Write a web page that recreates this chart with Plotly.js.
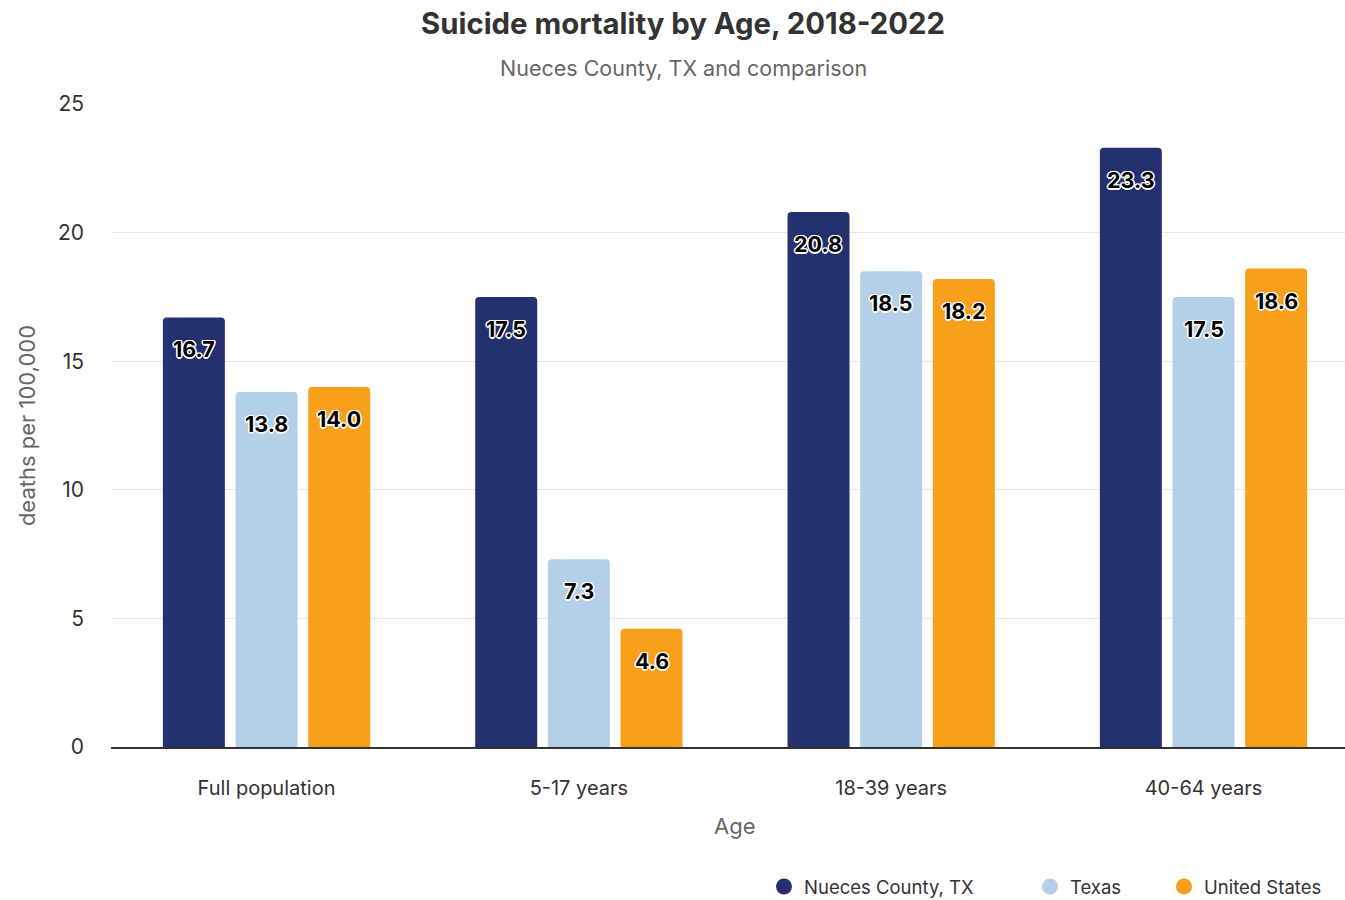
<!DOCTYPE html>
<html><head><meta charset="utf-8">
<script src="https://cdn.plot.ly/plotly-3.0.1.min.js"></script>
<style>html,body{margin:0;padding:0;background:#fff}#chart{width:1345px;height:900px}</style>
</head><body><div id="chart"></div>
<script>
const categories = ["Full population", "5-17 years", "18-39 years", "40-64 years"];
const nueces = [16.7, 17.5, 20.8, 23.3];
const texas = [13.8, 7.3, 18.5, 17.5];
const us = [14.0, 4.6, 18.2, 18.6];
const seriesNames = ["Nueces County, TX", "Texas", "United States"];
const colors = ["#24306f", "#b3d0e8", "#f8a01c"];
const series = [nueces, texas, us];

const FONT = "Inter, 'Noto Sans', sans-serif";
const o = [];
for (const [dx, dy] of [[1.5,0],[-1.5,0],[0,1.5],[0,-1.5],[1,1],[-1,-1],[1,-1],[-1,1]]) o.push(`${dx}px ${dy}px 0 #fff`);
const outline = o.join(", ");

const traces = [];
series.forEach((vals, i) => {
  traces.push({
    type: "bar", x: categories, y: vals, name: seriesNames[i],
    marker: {color: colors[i], line: {width: 0}},
    hoverinfo: "x+y", showlegend: false
  });
});
const legendIds = ["legend", "legend2", "legend3"];
series.forEach((vals, i) => {
  traces.push({
    type: "scatter", mode: "markers", x: [null], y: [null], name: seriesNames[i],
    marker: {color: colors[i], size: 21, symbol: "circle"}, showlegend: true, hoverinfo: "skip",
    legend: legendIds[i]
  });
});

const slotPx = 72.7;
const annotations = [
  {text: "Nueces County, TX and comparison", xref: "paper", yref: "paper", x: (683 - 111) / 1234, y: (747 - 68) / 643,
   xanchor: "center", yanchor: "middle", showarrow: false, font: {family: FONT, size: 21.5, color: "#666"}},
  {text: "Age", xref: "paper", yref: "paper", x: (735 - 111) / 1234, y: (747 - 826) / 643,
   xanchor: "center", yanchor: "middle", showarrow: false, font: {family: FONT, size: 22, color: "#666"}}
];
series.forEach((vals, i) => {
  vals.forEach((v, j) => {
    annotations.push({
      x: categories[j], y: v, xref: "x", yref: "y", showarrow: false,
      text: v.toFixed(1), xshift: (i - 1) * slotPx, yshift: -32, yanchor: "middle", xanchor: "center",
      font: {family: FONT, size: 21.5, color: "#000", weight: 700, shadow: outline}
    });
  });
});

const legBase = {orientation: "h", yref: "container", y: 1 - 887/900, yanchor: "middle", xref: "container",
  xanchor: "left", font: {family: FONT, size: 18.5, color: "#333"}, itemsizing: "trace", bgcolor: "rgba(0,0,0,0)"};
const layout = {
  width: 1345, height: 900,
  margin: {l: 111, r: 0, t: 104, b: 153, autoexpand: false},
  paper_bgcolor: "#fff", plot_bgcolor: "#fff",
  font: {family: FONT, color: "#333"},
  barmode: "group", bargap: 0.302, bargroupgap: 0.147, barcornerradius: 4,
  title: {text: "Suicide mortality by Age, 2018-2022", font: {family: FONT, size: 29.3, color: "#333", weight: 700},
          x: 683 / 1345, xanchor: "center", y: 1 - 24/900, yanchor: "middle", yref: "container", xref: "container"},
  annotations: annotations,
  xaxis: {
    type: "category", range: [-0.498, 3.453], showline: true, linecolor: "#333", linewidth: 1.5, ticks: "",
    tickfont: {family: FONT, size: 20, color: "#333"}, ticklabelstandoff: 22, automargin: false
  },
  yaxis: {
    range: [0, 25], tickvals: [0, 5, 10, 15, 20, 25], showgrid: true, gridcolor: "#e6e6e6", gridwidth: 1,
    zeroline: false, showline: false, ticks: "",
    tickfont: {family: FONT, size: 21, color: "#333"}, ticklabelstandoff: 26,
    title: {text: "deaths per 100,000", font: {family: FONT, size: 22, color: "#666"}, standoff: 16}, automargin: false
  },
  legend: Object.assign({}, legBase, {x: 764/1345}),
  legend2: Object.assign({}, legBase, {x: 1030/1345}),
  legend3: Object.assign({}, legBase, {x: 1164/1345}),
  showlegend: true
};
Plotly.newPlot("chart", traces, layout, {displayModeBar: false, staticPlot: true});
</script></body></html>
